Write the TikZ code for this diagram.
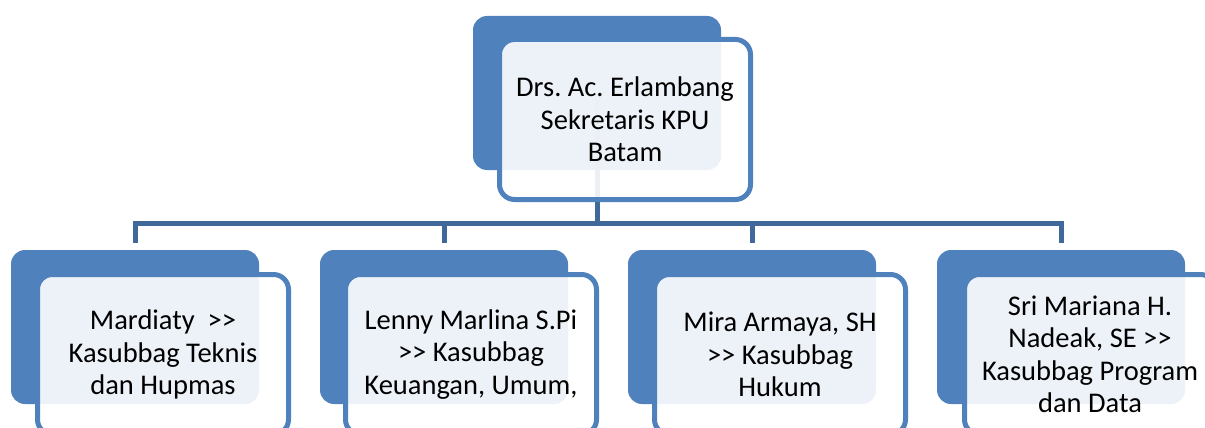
\documentclass[tikz,border=0pt]{standalone}
\usepackage{fontspec}
\setmainfont{Carlito}[Ligatures=TeXOff]
\frenchspacing
\definecolor{boxblue}{HTML}{4F81BD}
\definecolor{linkblue}{HTML}{41689B}
\begin{document}
\begin{tikzpicture}[x=1pt,y=-1pt,
  backbox/.style={rectangle, rounded corners=14pt, fill=boxblue, draw=none,
    minimum width=248pt, minimum height=154pt, inner sep=0pt},
  frontbox/.style={rectangle, rounded corners=15pt, draw=boxblue, line width=5pt,
    fill=white, fill opacity=0.9, text opacity=1, minimum width=251pt,
    minimum height=160pt, inner sep=0pt, align=center, text=black,
    font=\fontsize{28.5}{32.5}\selectfont},
  conn/.style={draw=linkblue, line width=5pt, line join=miter}]
\useasboundingbox (0,0) rectangle (1205,428);
\clip (0,0) rectangle (1205,428);
\coordinate (bus) at (0,223);
% back boxes
\node[backbox] (tb) at (597,93) {};
\node[backbox] (b1) at (135,327) {};
\node[backbox] (b2) at (444,327) {};
\node[backbox] (b3) at (752,327) {};
\node[backbox] (b4) at (1061,327) {};
% connectors
\draw[conn] (tb.center) -- (tb.center |- bus);
\draw[conn] ([yshift=7pt]b1.north) -- (b1.north |- bus) -- (b4.north |- bus) -- ([yshift=7pt]b4.north);
\draw[conn] (b2.north |- bus) -- ([yshift=7pt]b2.north);
\draw[conn] (b3.north |- bus) -- ([yshift=7pt]b3.north);
% front boxes
\node[frontbox] (tf) at (625,119.5) {Drs. Ac. Erlambang\\Sekretaris KPU\\Batam};
\node[frontbox] (f1) at (163,354.5) {Mardiaty\ \ >>\\Kasubbag Teknis\\dan Hupmas};
\node[frontbox] (f2) at (471,354.5) {Lenny Marlina S.Pi\\>> Kasubbag\\Keuangan, Umum,};
\node[frontbox] (f3) at (780,354.5) {Mira Armaya, SH\\>> Kasubbag\\Hukum};
\node[frontbox] (f4) at (1090,354.5) {Sri Mariana H.\\Nadeak, SE >>\\Kasubbag Program\\dan Data};
\end{tikzpicture}
\end{document}
